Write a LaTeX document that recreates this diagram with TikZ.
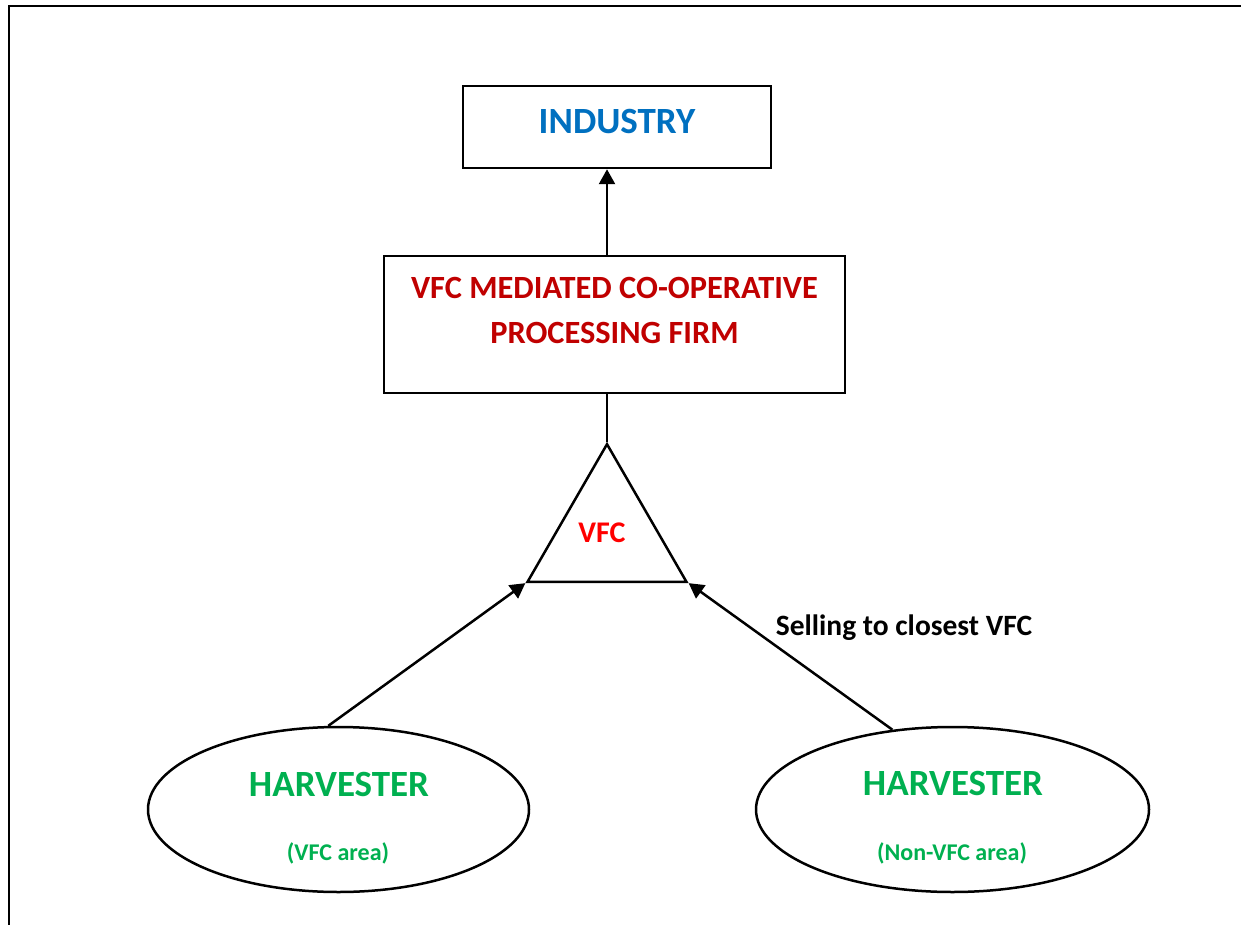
\documentclass[tikz,border=0pt]{standalone}
\usepackage{fontspec}
\setmainfont{Carlito}
\usetikzlibrary{shapes.geometric,arrows.meta,positioning}
\definecolor{indblue}{HTML}{0070C0}
\definecolor{firmred}{HTML}{C00000}
\definecolor{vfcred}{HTML}{FF0000}
\definecolor{harvgreen}{HTML}{00B050}

\begin{document}
\begin{tikzpicture}[x=1pt,y=-1pt]
            \tikzset{box/.style={draw,line width=2.5pt,rectangle,inner sep=0pt},
                     oval/.style={draw,line width=2.5pt,ellipse,inner sep=0pt},
                     big/.style={font=\bfseries\fontsize{37}{44}\selectfont,inner sep=0pt},
                     small/.style={font=\bfseries\fontsize{24}{29}\selectfont,inner sep=0pt},
                     link/.style={line width=2.5pt},
                     tip/.style={link,-{Triangle[length=15pt,width=16pt]}}}
            \useasboundingbox (0,0) rectangle (1241,925);
            \draw[line width=2.5pt] (9,925) -- (9,6) -- (1241,6);
            % boxes
            \node[box,minimum width=461pt,minimum height=137pt] (firm) at (614.5,324.5) {};
            \node[box,minimum width=308pt,minimum height=82pt] (industry) at (617,127) {};
            \node[big,text=indblue] (industrytext) at (617,122) {INDUSTRY};
            \node[font=\bfseries\fontsize{32.4}{45}\selectfont,align=center,text=firmred,inner sep=0pt]
                 (firmtext) at (614.5,310.5) {VFC MEDIATED CO-OPERATIVE\\PROCESSING FIRM};
            % collection centre
            \node[draw,line width=2.5pt,regular polygon,regular polygon sides=3,minimum size=183.6pt,
                  inner sep=0pt] (vfc) at (607,536) {};
            \node[font=\bfseries\fontsize{30}{36}\selectfont,text=vfcred,inner sep=0pt] (vfctext) at (602,533) {VFC};
            % harvesters
            \node[oval,minimum width=381pt,minimum height=165pt] (harvA) at (338.5,809.5) {};
            \node[oval,minimum width=393pt,minimum height=165pt] (harvB) at (952.5,809.5) {};
            \node[big,text=harvgreen] (harvAtext) at (339,784) {HARVESTER};
            \node[small,text=harvgreen] (harvAsub) at (338,853) {(VFC area)};
            \node[big,text=harvgreen] (harvBtext) at (953,783) {HARVESTER};
            \node[small,text=harvgreen] (harvBsub) at (952,853) {(Non-VFC area)};
            \node[font=\bfseries\fontsize{29.5}{35}\selectfont,inner sep=0pt] (sell) at (904,628) {Selling to closest VFC};
            % links
            \draw[tip] (firm.north -| vfc.corner 1) -- (industry.south -| vfc.corner 1);
            \draw[link] (firm.south -| vfc.corner 1) -- (vfc.corner 1);
            \draw[tip] (harvA.97) -- (vfc.corner 2);
            \draw[tip] (harvB.127) -- (vfc.corner 3);
\end{tikzpicture}
\end{document}
